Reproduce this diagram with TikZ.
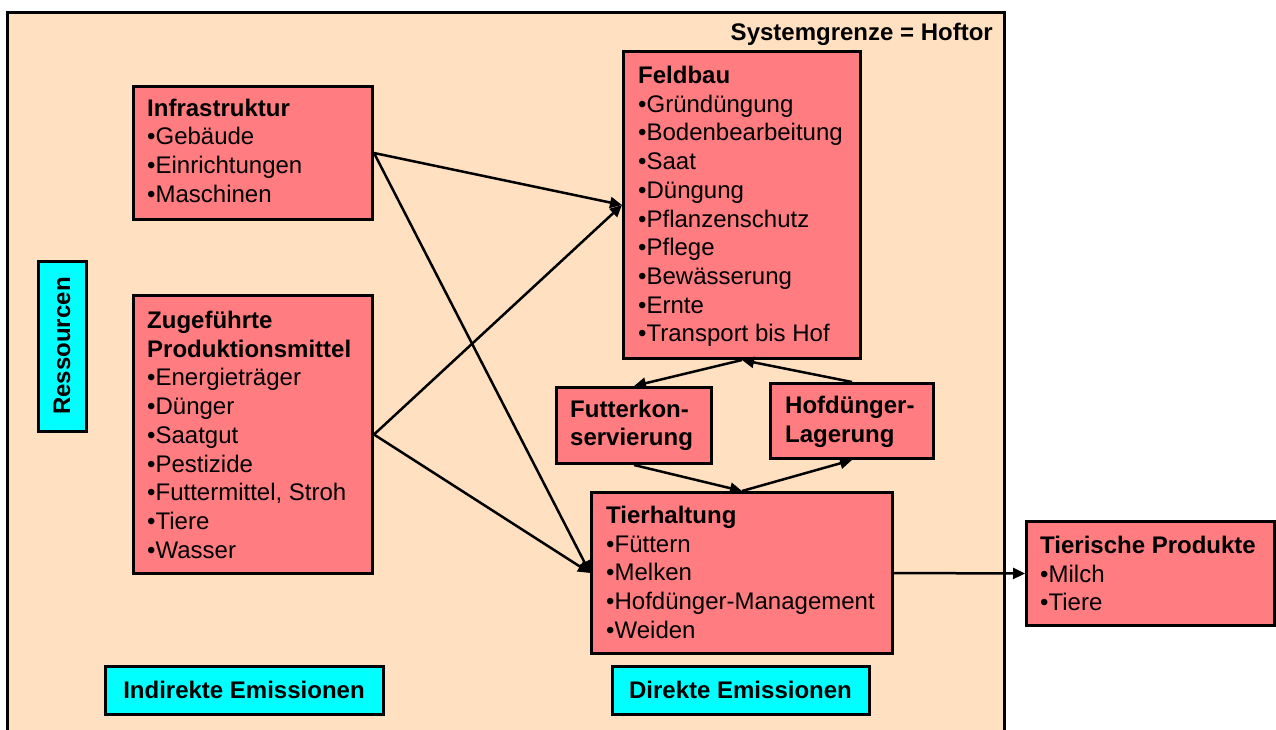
\documentclass[tikz,border=0pt]{standalone}
\usepackage{fontspec}
\setmainfont{Liberation Sans}
\usetikzlibrary{arrows.meta}
\definecolor{beige}{RGB}{255,224,192}
\definecolor{rosa}{RGB}{255,124,128}
\definecolor{cyanbox}{RGB}{0,255,255}
\newcommand{\boxlines}[1]{\begin{tabular}[t]{@{}l@{}}#1\end{tabular}}
\begin{document}
\begin{tikzpicture}[x=1pt,y=-1pt,
  box/.style={draw=black, line width=3pt, fill=rosa, anchor=north west, inner sep=0pt},
  cbox/.style={draw=black, line width=3pt, fill=cyanbox, inner sep=0pt, font=\fontsize{24}{29}\selectfont\bfseries},
  txt/.style={anchor=base west, inner sep=0pt, font=\fontsize{24}{28.7}\selectfont},
  arr/.style={line width=2.5pt, -{Triangle[length=12pt,width=11pt]}}]
\useasboundingbox (0,0) rectangle (1276,729);
\clip (0,0) rectangle (1276,729);
% system frame
\draw[line width=3pt, fill=beige] (7,12) rectangle (1004,745);
\node[anchor=base east, inner sep=0pt, font=\fontsize{24}{29}\selectfont\bfseries] (sys) at (993,40.5) {Systemgrenze = Hoftor};
% boxes
\node[box, minimum width=239pt, minimum height=133pt] (infra) at (132,85) {};
\node[box, minimum width=239pt, minimum height=278pt] (zug) at (132,294) {};
\node[box, minimum width=237pt, minimum height=307pt] (feld) at (622,50) {};
\node[box, minimum width=155pt, minimum height=76pt] (futter) at (555,386) {};
\node[box, minimum width=163pt, minimum height=75pt] (hofd) at (769,382) {};
\node[box, minimum width=301pt, minimum height=161pt] (tier) at (590,491) {};
\node[box, minimum width=248pt, minimum height=104pt] (prod) at (1025,520) {};
% texts
\node[txt] (infraT) at (147,116) {\boxlines{\textbf{Infrastruktur}\\•Gebäude\\•Einrichtungen\\•Maschinen}};
\node[txt] (zugT) at (147,328.5) {\boxlines{\textbf{Zugeführte}\\\textbf{Produktionsmittel}\\•Energieträger\\•Dünger\\•Saatgut\\•Pestizide\\•Futtermittel, Stroh\\•Tiere\\•Wasser}};
\node[txt] (feldT) at (638,83.5) {\boxlines{\textbf{Feldbau}\\•Gründüngung\\•Bodenbearbeitung\\•Saat\\•Düngung\\•Pflanzenschutz\\•Pflege\\•Bewässerung\\•Ernte\\•Transport bis Hof}};
\node[txt, font=\fontsize{24}{28}\selectfont\bfseries] (futterT) at (570,417.5) {\boxlines{Futterkon-\\servierung}};
\node[txt, font=\fontsize{24}{28.5}\selectfont\bfseries] (hofdT) at (785,413.5) {\boxlines{Hofdünger-\\Lagerung}};
\node[txt] (tierT) at (606,523.5) {\boxlines{\textbf{Tierhaltung}\\•Füttern\\•Melken\\•Hofdünger-Management\\•Weiden}};
\node[txt] (prodT) at (1040,553.5) {\boxlines{\textbf{Tierische Produkte}\\•Milch\\•Tiere}};
% cyan boxes
\node[cbox, minimum width=48pt, minimum height=170pt] (ress) at (62,346) {\rotatebox{90}{Ressourcen}};
\node[cbox, minimum width=278pt, minimum height=48pt] (indir) at (244,690) {Indirekte Emissionen};
\node[cbox, minimum width=257pt, minimum height=48pt] (direkt) at (740.5,690) {Direkte Emissionen};
% arrows
\draw[arr] (infra.east) -- (feld.west);
\draw[arr] (infra.east) -- (tier.west);
\draw[arr] (zug.east) -- (feld.west);
\draw[arr] (zug.east) -- (tier.west);
\draw[arr] (feld.south) -- (futter.north);
\draw[arr] (hofd.north) -- (feld.south);
\draw[arr] (futter.south) -- (tier.north);
\draw[arr] (tier.north) -- (hofd.south);
\draw[arr] (tier.east) -- (prod.west);
\end{tikzpicture}
\end{document}
